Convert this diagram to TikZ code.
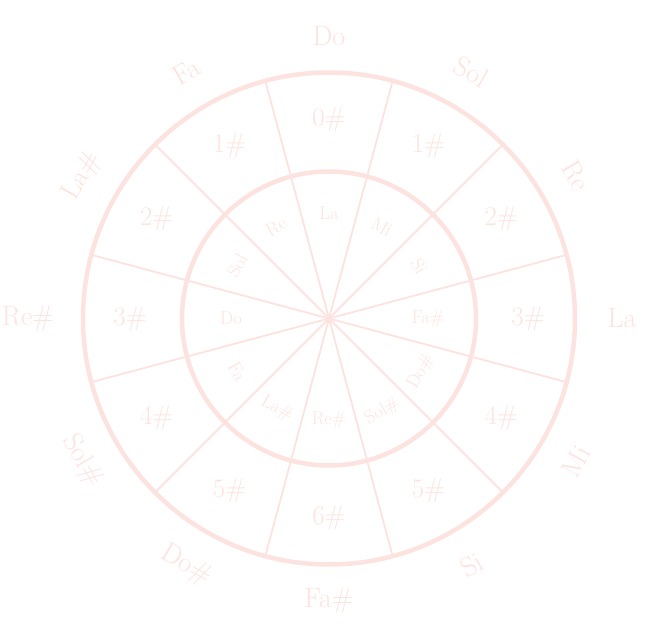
\documentclass[tikz,border=0pt]{standalone}
\usepackage{fontspec}
\setmainfont{Latin Modern Roman}
\definecolor{pk}{RGB}{252,227,224}
\begin{document}
\begin{tikzpicture}[x=1pt,y=1pt,
  ring/.style={draw=pk,line width=4.5pt},
  spoke/.style={draw=pk,line width=1.8pt},
  outerlab/.style={text=pk,font=\fontsize{28}{28}\selectfont,inner sep=0pt},
  keylab/.style={text=pk,font=\fontsize{27}{27}\selectfont,inner sep=0pt},
  innerlab/.style={text=pk,font=\fontsize{18.5}{18.5}\selectfont,inner sep=0pt}]
\useasboundingbox (-329,-319.5) rectangle (320,318.5);
\coordinate (c) at (0,0);
\foreach \a [count=\i] in {15,45,...,345}
  \coordinate (e\i) at (\a:246);
\foreach \i in {1,...,12}
  \draw[spoke] (c) -- (e\i);
\draw[ring] (c) circle (246);
\draw[ring] (c) circle (147);
% outer note names
\foreach \a/\d/\r/\t [count=\i] in {90/282/0/Do, 60/285/-30/Sol, 30/285/-60/Re, 0/293/0/La, -30/285/60/Mi, -60/285/30/Si, -90/282/0/Fa\#, -120/285/-30/Do\#, -150/285/-60/Sol\#, 180/301/0/Re\#, 150/285/60/La\#, 120/285/30/Fa}
  \node[outerlab,rotate=\r] (o\i) at (\a:\d) {\t};
% key signatures
\foreach \a/\t [count=\i] in {90/0\#, 60/1\#, 30/2\#, 0/3\#, -30/4\#, -60/5\#, -90/6\#, -120/5\#, -150/4\#, 180/3\#, 150/2\#, 120/1\#}
  \node[keylab] (k\i) at (\a:199) {\t};
% inner relative minors
\foreach \a/\d/\r/\t [count=\i] in {90/105/0/La, 60/106/-30/Mi, 30/104/-60/Si, 0/99/0/Fa\#, -30/106/60/Do\#, -60/107/30/Sol\#, -90/101/0/Re\#, -120/104/-30/La\#, -150/106/-60/Fa, 180/98/0/Do, 150/106/60/Sol, 120/106/30/Re}
  \node[innerlab,rotate=\r] (m\i) at (\a:\d) {\t};
\end{tikzpicture}
\end{document}
